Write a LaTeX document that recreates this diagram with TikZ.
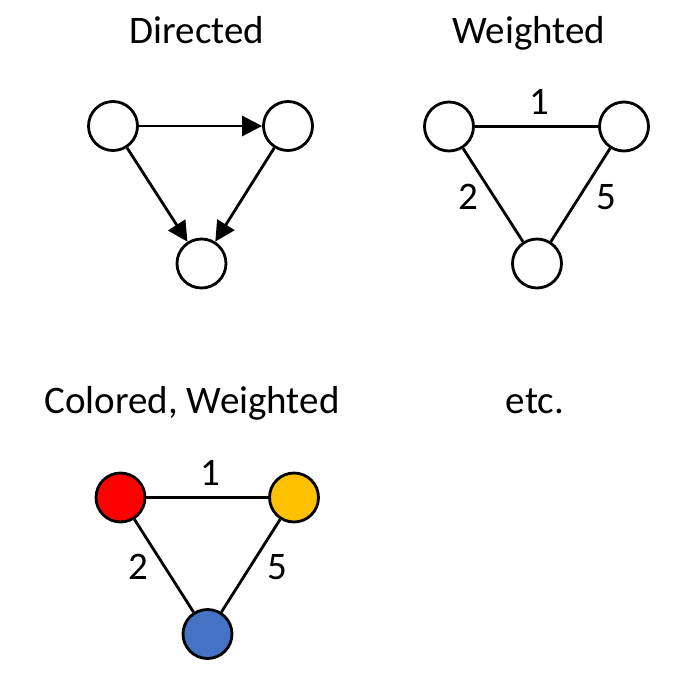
\documentclass[tikz,border=0pt]{standalone}
\usepackage{fontspec}
\setmainfont{Carlito}
\usetikzlibrary{arrows.meta}
\definecolor{offred}{HTML}{FF0000}
\definecolor{offyellow}{HTML}{FFC000}
\definecolor{offblue}{HTML}{4472C4}
\begin{document}
\begin{tikzpicture}[x=1pt,y=-1pt,
  vert/.style={circle,draw=black,line width=2.8pt,minimum size=49pt,inner sep=0pt,fill=white},
  edge/.style={line width=2.8pt},
  arr/.style={edge,-{Triangle[length=20pt,width=20pt]}},
  title/.style={anchor=base,font=\fontsize{39}{46}\selectfont},
  wlabel/.style={font=\fontsize{39}{46}\selectfont,inner sep=0pt}]
\useasboundingbox (0,0) rectangle (681,681);
% Directed
\node[title] (t1) at (197,43) {Directed};
\node[vert] (a1) at (113,126) {};
\node[vert] (b1) at (288,126) {};
\node[vert] (c1) at (201.5,263.5) {};
\draw[arr] (a1) -- (b1);
\draw[arr] (a1) -- (c1);
\draw[arr] (b1) -- (c1);
% Weighted
\node[title] (t2) at (529,43) {Weighted};
\node[vert] (a2) at (449,126.5) {};
\node[vert] (b2) at (624,126.5) {};
\node[vert] (c2) at (537,263.5) {};
\draw[edge] (a2) -- (b2);
\draw[edge] (a2) -- (c2);
\draw[edge] (b2) -- (c2);
\node[wlabel] (l21) at (539,102) {1};
\node[wlabel] (l22) at (468,197) {2};
\node[wlabel] (l25) at (606,197) {5};
% Colored, Weighted
\node[title] (t3) at (192,413) {Colored, Weighted};
\node[vert,fill=offred] (a3) at (120.5,497.5) {};
\node[vert,fill=offyellow] (b3) at (294,497.5) {};
\node[vert,fill=offblue] (c3) at (207.5,634) {};
\draw[edge] (a3) -- (b3);
\draw[edge] (a3) -- (c3);
\draw[edge] (b3) -- (c3);
\node[wlabel] (l31) at (210,473) {1};
\node[wlabel] (l32) at (138,567) {2};
\node[wlabel] (l35) at (277,567) {5};
% etc.
\node[title] (t4) at (535,413) {etc.};
\end{tikzpicture}
\end{document}
